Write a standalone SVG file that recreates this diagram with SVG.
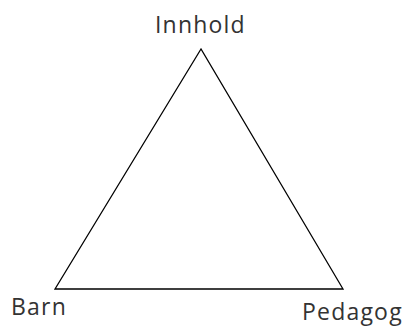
<svg xmlns="http://www.w3.org/2000/svg" width="409" height="326" viewBox="0 0 409 326">
<style>
text{font-family:"Open Sans","Noto Sans",sans-serif;font-size:23px;letter-spacing:1.2px;font-weight:500;fill:#333}
.edge{fill:none;stroke:#000;stroke-width:1.3}
</style>
<rect width="409" height="326" fill="#fff"/>
<g id="connectors">
<polygon class="edge" points="201,49 55,289 343,289"/>
</g>
<g id="innhold"><text x="155" y="33">Innhold</text></g>
<g id="barn"><text x="11" y="315">Barn</text></g>
<g id="pedagog"><text x="302" y="320">Pedagog</text></g>
</svg>
